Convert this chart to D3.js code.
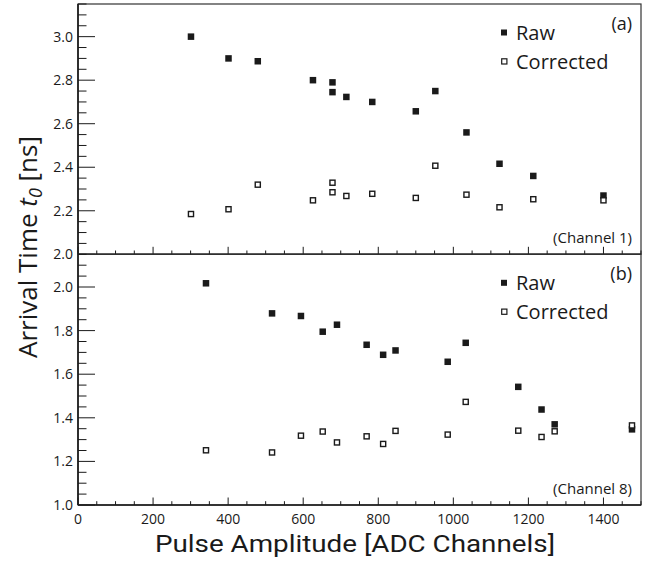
<!DOCTYPE html>
<html>
<head>
<meta charset="utf-8">
<script src="https://cdn.jsdelivr.net/npm/d3@7"></script>
<style>
  body { margin: 0; background: #fff; }
  svg { font-family: "Open Sans", sans-serif; }
</style>
</head>
<body>
<div id="chart"></div>
<script>
// pulse amplitudes [ADC channels] and arrival times [ns]
var ampA = [301, 401, 479, 626, 678, 678, 715, 784, 900, 952, 1035, 1123, 1213, 1400];
var rawA = [3.00, 2.90, 2.887, 2.80, 2.79, 2.745, 2.723, 2.70, 2.657, 2.75, 2.56, 2.416, 2.36, 2.27];
var corA = [2.185, 2.207, 2.32, 2.248, 2.329, 2.285, 2.268, 2.278, 2.259, 2.407, 2.274, 2.216, 2.253, 2.248];

var ampB = [341, 517, 594, 652, 690, 769, 813, 846, 985, 1033, 1173, 1235, 1270, 1476];
var rawB = [2.017, 1.879, 1.867, 1.795, 1.827, 1.735, 1.689, 1.709, 1.657, 1.744, 1.542, 1.438, 1.37, 1.347];
var corB = [1.251, 1.241, 1.318, 1.337, 1.287, 1.315, 1.28, 1.34, 1.323, 1.473, 1.341, 1.312, 1.338, 1.365];

var xTicks = [0, 200, 400, 600, 800, 1000, 1200, 1400];
var yTicksA = [2.0, 2.2, 2.4, 2.6, 2.8, 3.0];
var yTicksB = [1.0, 1.2, 1.4, 1.6, 1.8, 2.0];

var width = 655, height = 563;
var left = 78, right = 641;
var ink = '#1a1a1a';

var svg = d3.select('#chart').append('svg')
  .attr('width', width)
  .attr('height', height);

var x = d3.scaleLinear().domain([0, 1500]).range([left, right]);

function drawPanel(top, bottom, yDomain, yTicks, amp, raw, cor, tag, channel, showX) {
  var y = d3.scaleLinear().domain(yDomain).range([bottom, top]);
  var g = svg.append('g');

  // frame
  g.append('rect')
    .attr('x', left).attr('y', top)
    .attr('width', right - left).attr('height', bottom - top)
    .attr('fill', 'none').attr('stroke', '#333').attr('stroke-width', 1.2);

  // y axis: major ticks every 0.2, minor every 0.05
  var yMinor = d3.range(Math.round(yDomain[0] * 20), Math.round(yDomain[1] * 20) + 1).map(function(d) { return d / 20; });
  g.selectAll('.ymin').data(yMinor).enter().append('line')
    .attr('x1', left).attr('x2', function(d) {
      return left + (Math.abs(d * 5 - Math.round(d * 5)) < 1e-6 ? 17 : 8.5);
    })
    .attr('y1', function(d) { return y(d); }).attr('y2', function(d) { return y(d); })
    .attr('stroke', ink).attr('stroke-width', 1);

  g.selectAll('.ylab').data(yTicks).enter().append('text')
    .attr('x', left - 5).attr('y', function(d) { return y(d); })
    .attr('dy', '0.36em')
    .attr('text-anchor', 'end')
    .attr('font-size', 14).attr('fill', ink)
    .text(function(d) { return d.toFixed(1); });

  // x axis: major ticks every 200, minor every 50
  var xMinor = d3.range(0, 1501, 50);
  g.selectAll('.xmin').data(xMinor).enter().append('line')
    .attr('x1', function(d) { return x(d); }).attr('x2', function(d) { return x(d); })
    .attr('y1', bottom).attr('y2', function(d) { return bottom - (d % 200 === 0 ? 7.5 : 3.8); })
    .attr('stroke', ink).attr('stroke-width', 1);

  if (showX) {
    g.selectAll('.xlab').data(xTicks).enter().append('text')
      .attr('x', function(d) { return x(d); }).attr('y', bottom + 19)
      .attr('text-anchor', 'middle')
      .attr('font-size', 14).attr('fill', ink)
      .text(function(d) { return d; });
  }

  // axis lines on top of frame
  g.append('line').attr('x1', left).attr('x2', left).attr('y1', top).attr('y2', bottom)
    .attr('stroke', ink).attr('stroke-width', 1.6);
  g.append('line').attr('x1', left).attr('x2', right).attr('y1', bottom).attr('y2', bottom)
    .attr('stroke', ink).attr('stroke-width', 1.6);

  // markers
  var s = 6.5;
  g.selectAll('.raw').data(amp).enter().append('rect')
    .attr('x', function(d) { return x(d) - s / 2; })
    .attr('y', function(d, i) { return y(raw[i]) - s / 2; })
    .attr('width', s).attr('height', s)
    .attr('fill', ink);

  g.selectAll('.cor').data(amp).enter().append('rect')
    .attr('x', function(d) { return x(d) - (s - 1.4) / 2; })
    .attr('y', function(d, i) { return y(cor[i]) - (s - 1.4) / 2; })
    .attr('width', s - 1.4).attr('height', s - 1.4)
    .attr('fill', '#fff').attr('stroke', ink).attr('stroke-width', 1.4);

  // legend
  var ly = top + 28.5;
  g.append('rect').attr('x', 501).attr('y', ly - 3).attr('width', 6).attr('height', 6).attr('fill', ink);
  g.append('text').attr('x', 516).attr('y', ly + 7).attr('font-size', 20).attr('fill', ink).text('Raw');
  g.append('rect').attr('x', 501.7).attr('y', ly + 26.3).attr('width', 5.2).attr('height', 5.2)
    .attr('fill', '#fff').attr('stroke', ink).attr('stroke-width', 1.2);
  g.append('text').attr('x', 516).attr('y', ly + 36).attr('font-size', 20).attr('fill', ink).text('Corrected');

  g.append('text').attr('x', 632).attr('y', top + 26).attr('text-anchor', 'end')
    .attr('font-size', 18).attr('fill', ink).text(tag);
  g.append('text').attr('x', 632).attr('y', bottom - 11).attr('text-anchor', 'end')
    .attr('font-size', 15).attr('fill', ink).text(channel);
}

drawPanel(4, 254.3, [2.0, 3.15], yTicksA, ampA, rawA, corA, '(a)', '(Channel 1)', false);
drawPanel(254.3, 505, [1.0, 2.15], yTicksB, ampB, rawB, corB, '(b)', '(Channel 8)', true);

// axis titles
var yt = svg.append('text')
  .attr('transform', 'translate(37,247) rotate(-90)')
  .attr('text-anchor', 'middle')
  .attr('font-size', 26).attr('fill', ink);
yt.append('tspan').text('Arrival Time ');
yt.append('tspan').attr('font-style', 'italic').text('t');
yt.append('tspan').attr('font-style', 'italic').attr('font-size', 18).attr('dy', 5).text('0');
yt.append('tspan').attr('dy', -5).text(' [ns]');

svg.append('text')
  .attr('x', 155).attr('y', 551.5)
  .attr('textLength', 400).attr('lengthAdjust', 'spacingAndGlyphs')
  .attr('font-family', 'Roboto, "Open Sans", sans-serif')
  .attr('font-size', 24).attr('fill', ink)
  .text('Pulse Amplitude [ADC Channels]');
</script>
</body>
</html>
